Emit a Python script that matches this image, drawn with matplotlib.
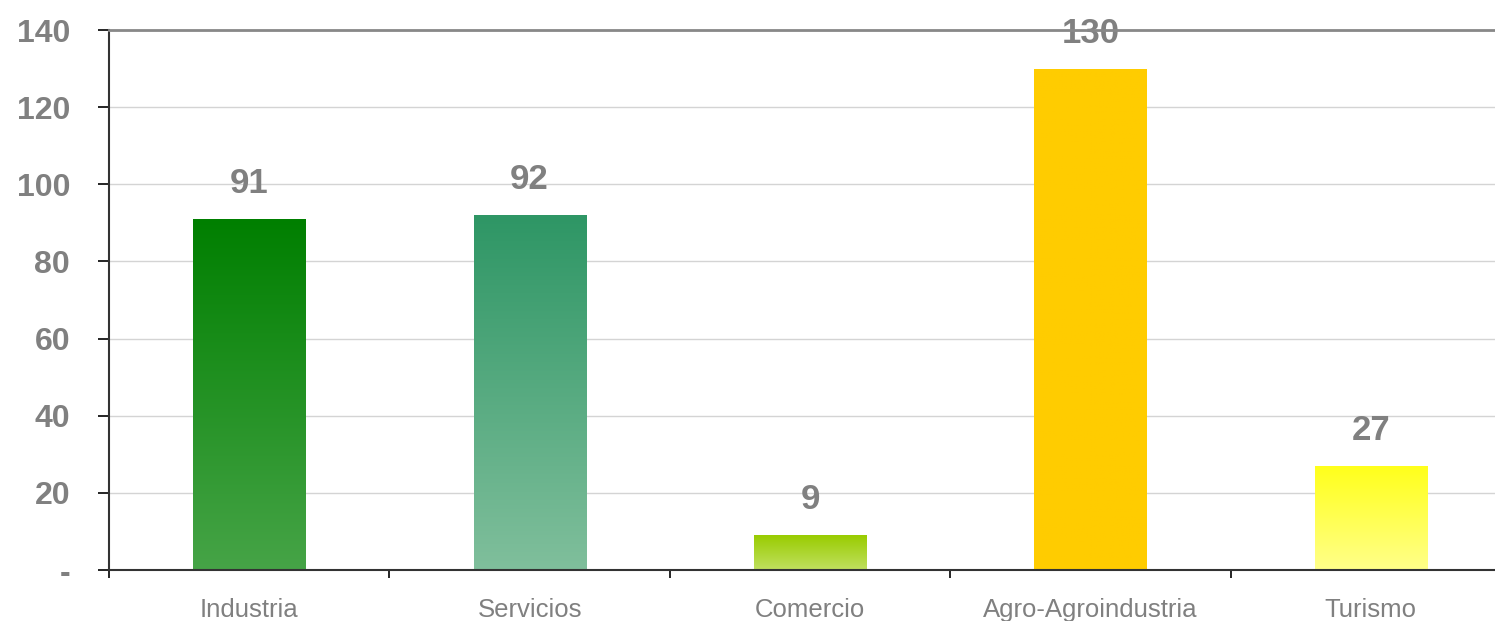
import numpy as np
import matplotlib.pyplot as plt
from matplotlib.colors import LinearSegmentedColormap

plt.rcParams['font.family'] = ['Liberation Sans', 'DejaVu Sans']

# Datos del gráfico
categorias = ['Industria', 'Servicios', 'Comercio', 'Agro-Agroindustria', 'Turismo']
valores = [91, 92, 9, 130, 27]
# colores (arriba, abajo) del degradado de cada barra
colores_arriba = ['#007f00', '#2e9665', '#99cc00', '#ffcc00', '#ffff1a']
colores_abajo = ['#46a447', '#80bf9c', '#c0e060', '#ffcc00', '#ffff8a']
ticks_y = [0, 20, 40, 60, 80, 100, 120, 140]
etiquetas_y = ['-', '20', '40', '60', '80', '100', '120', '140']

gris = '#808080'

fig = plt.figure(figsize=(14.95, 6.21), dpi=100)
ax = fig.add_axes([109 / 1495, 51 / 621, 1402 / 1495, 540 / 621])

x = np.arange(len(categorias))
barras = ax.bar(x, valores, width=0.4, color='none', zorder=2)

# Degradado vertical dentro de cada barra
grad = np.linspace(0, 1, 256).reshape(-1, 1)
for b, c1, c2, v in zip(barras, colores_arriba, colores_abajo, valores):
    cmap = LinearSegmentedColormap.from_list('g', [c2, c1])
    x0 = b.get_x()
    im = ax.imshow(grad, cmap=cmap, origin='lower', aspect='auto',
                   extent=[x0, x0 + b.get_width(), 0, b.get_height()], zorder=2)
    im.set_clip_path(b)
    ax.text(b.get_x() + b.get_width() / 2, v + 9.2, f'{v}', ha='center', va='center',
            fontsize=25, fontweight='bold', color=gris, zorder=1)

ax.set_xlim(-0.5, 4.5)
ax.set_ylim(0, 140)

ax.set_yticks(ticks_y)
ax.set_yticklabels(etiquetas_y)
ax.tick_params(axis='y', direction='out', length=8, width=1.2, color='black',
               pad=20, labelsize=23, labelcolor=gris)
for t in ax.get_yticklabels():
    t.set_fontweight('bold')

ax.set_xticks(x)
ax.set_xticklabels(categorias)
ax.tick_params(axis='x', which='major', length=0, pad=20, labelsize=18.5, labelcolor=gris)
ax.set_xticks(np.arange(-0.5, 5, 1), minor=True)
ax.tick_params(axis='x', which='minor', direction='out', length=6, width=1.2, color='black')

ax.grid(axis='y', color='#d4d4d4', linewidth=1, zorder=0)
ax.set_axisbelow(True)

ax.spines['left'].set_color('#333333')
ax.spines['left'].set_linewidth(1.5)
ax.spines['bottom'].set_color('#333333')
ax.spines['bottom'].set_linewidth(1.5)
ax.spines['top'].set_color('#888888')
ax.spines['top'].set_linewidth(2)
ax.spines['top'].set_zorder(5)
ax.spines['right'].set_visible(False)

fig.savefig('out.png', dpi=100)
